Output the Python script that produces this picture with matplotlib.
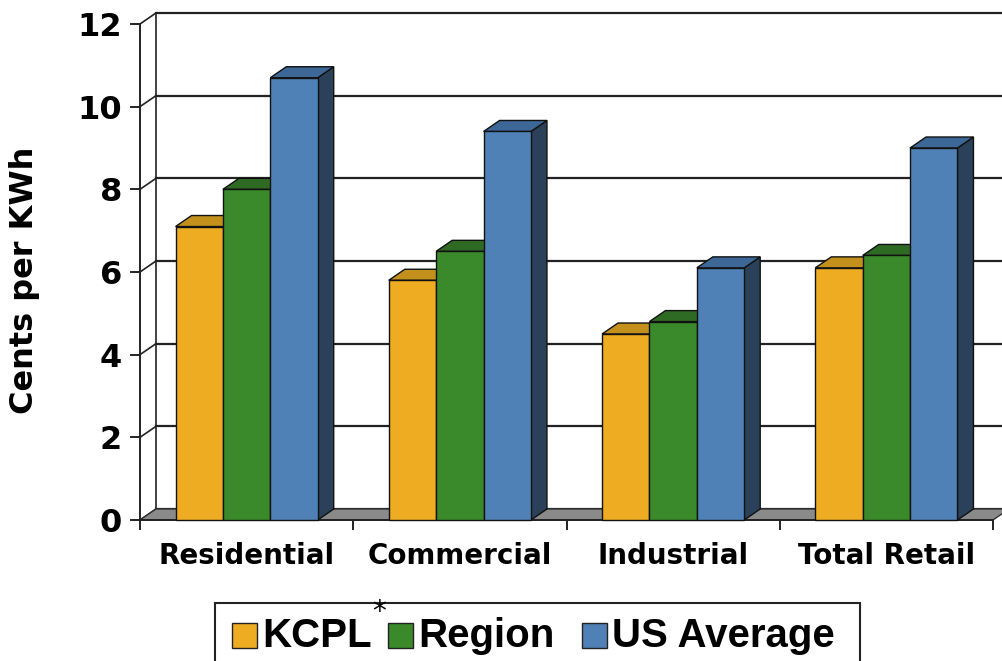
import matplotlib
matplotlib.use("Agg")
import matplotlib.pyplot as plt
from matplotlib.patches import Polygon, Rectangle
from matplotlib.lines import Line2D

# ---- data -------------------------------------------------------------
categories = ["Residential", "Commercial", "Industrial", "Total Retail"]
series_names = ["KCPL", "Region", "US Average"]
kcpl = [7.1, 5.8, 4.5, 6.1]
region = [8.0, 6.5, 4.8, 6.4]
us_average = [10.7, 9.4, 6.1, 9.0]
y_ticks = [0, 2, 4, 6, 8, 10, 12]
y_label = "Cents per KWh"

series_values = [kcpl, region, us_average]

# ---- style ------------------------------------------------------------
front_colors = ["#EEAC22", "#3A8A2C", "#4F81B6"]
top_colors = ["#C4901C", "#2F6A24", "#3D6796"]
side_colors = ["#A87A14", "#24521B", "#2B4059"]
edge = "#111111"
line_col = "#222222"
floor_col = "#8A8A8A"

W_PX, H_PX = 1003, 661
fig = plt.figure(figsize=(W_PX / 100, H_PX / 100), dpi=100)
fig.patch.set_facecolor("white")

# front plane of the plot box in pixels
left_px, right_px, top_px, bottom_px = 140, 993, 24, 520
ax = fig.add_axes([left_px / W_PX, 1 - bottom_px / H_PX,
                   (right_px - left_px) / W_PX, (bottom_px - top_px) / H_PX])
ax.set_xlim(0, len(categories))
ax.set_ylim(0, 12)
ax.patch.set_alpha(0)

# depth offset of the 3-D look, in pixels, converted to data units
DEPTH_DX_PX, DEPTH_DY_PX = 16, 11
ddx = DEPTH_DX_PX / ((right_px - left_px) / len(categories))
ddy = DEPTH_DY_PX / ((bottom_px - top_px) / 12)

# back wall gridlines, left side-wall edges
far_x = len(categories) + ddx + 0.5
for v in y_ticks:
    ax.add_line(Line2D([ddx, far_x], [v + ddy, v + ddy], color=line_col,
                       lw=1.6, zorder=2, clip_on=False))
    ax.add_line(Line2D([0, ddx], [v, v + ddy], color=line_col,
                       lw=1.2, zorder=2, clip_on=False))
ax.add_line(Line2D([ddx, ddx], [ddy, 12 + ddy], color=line_col, lw=1.2,
                   zorder=2, clip_on=False))

# floor
n = len(categories)
ax.add_patch(Polygon([(0, 0), (n, 0), (n + ddx, ddy), (ddx, ddy)],
                     closed=True, facecolor=floor_col, edgecolor="#333333",
                     lw=1.0, zorder=3, clip_on=False))

# bars with top and side faces
w = 1 / 4.5
pad = 0.75 * w
for i in range(n):
    for j, vals in enumerate(series_values):
        x0 = i + pad + j * w
        v = vals[i]
        z = 10 + 3 * j
        ax.add_patch(Polygon([(x0 + w, 0), (x0 + w + ddx, ddy),
                              (x0 + w + ddx, v + ddy), (x0 + w, v)],
                             closed=True, facecolor=side_colors[j],
                             edgecolor=edge, lw=1.0, zorder=z, clip_on=False))
        ax.add_patch(Polygon([(x0, v), (x0 + w, v), (x0 + w + ddx, v + ddy),
                              (x0 + ddx, v + ddy)],
                             closed=True, facecolor=top_colors[j],
                             edgecolor=edge, lw=1.0, zorder=z + 1, clip_on=False))
        ax.bar(x0, v, width=w, align="edge", color=front_colors[j],
               edgecolor=edge, linewidth=1.0, zorder=z + 2, clip_on=False)

# axes: spines and ticks
for s in ("top", "right"):
    ax.spines[s].set_visible(False)
for s in ("left", "bottom"):
    ax.spines[s].set_color(line_col)
    ax.spines[s].set_linewidth(1.4)
    ax.spines[s].set_zorder(4)

ax.set_yticks(y_ticks)
ax.set_yticklabels([str(t) for t in y_ticks])
ax.tick_params(axis="y", direction="out", length=7, width=1.4, color=line_col,
               pad=6, labelsize=23)
for lab in ax.get_yticklabels():
    lab.set_fontweight("bold")
    lab.set_family("DejaVu Sans")

ax.set_xticks(range(n + 1))
ax.set_xticklabels([""] * (n + 1))
ax.set_xticks([i + 0.5 for i in range(n)], minor=True)
ax.set_xticklabels(categories, minor=True)
ax.tick_params(axis="x", which="major", direction="out", length=7,
               width=1.4, color=line_col)
ax.tick_params(axis="x", which="minor", length=0, pad=16, labelsize=20)
for lab in ax.get_xticklabels(minor=True):
    lab.set_fontweight("bold")
    lab.set_family("DejaVu Sans")

fig.text(25 / W_PX, 1 - 280 / H_PX, y_label, rotation=90, ha="center",
         va="center", fontsize=23, fontweight="bold", family="DejaVu Sans")

# legend drawn as a framed strip along the bottom
def fx(px):
    return px / W_PX


def fy(py):
    return 1 - py / H_PX


fig.add_artist(Rectangle((fx(215), fy(675)), fx(860) - fx(215), fy(603) - fy(675),
                         transform=fig.transFigure, facecolor="white",
                         edgecolor="#222222", lw=1.5))
handle_x = [232, 388, 582]
text_x = [262, 418, 612]
sq = 25
for j, name in enumerate(series_names):
    fig.add_artist(Rectangle((fx(handle_x[j]), fy(623 + sq)), sq / W_PX, sq / H_PX,
                             transform=fig.transFigure,
                             facecolor=front_colors[j], edgecolor="#222222", lw=1.0))
    fig.text(fx(text_x[j]), fy(636), name, ha="left", va="center",
             fontsize=29, fontweight="bold", family="Liberation Sans")
fig.text(fx(379), fy(612), "*", ha="center", va="center", fontsize=20,
         family="DejaVu Sans")

fig.savefig("out.png", dpi=100, facecolor="white")
